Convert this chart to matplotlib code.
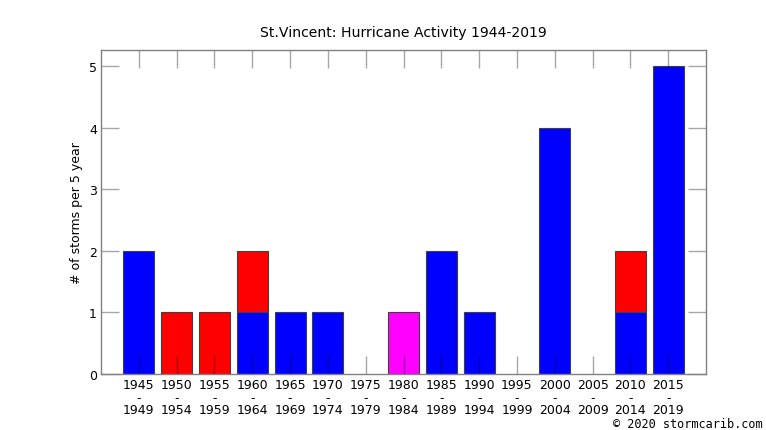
import numpy as np
import matplotlib
matplotlib.use("Agg")
import matplotlib.pyplot as plt

# storms per 5-year period, by category
periods = ["1945\n-\n1949", "1950\n-\n1954", "1955\n-\n1959", "1960\n-\n1964",
           "1965\n-\n1969", "1970\n-\n1974", "1975\n-\n1979", "1980\n-\n1984",
           "1985\n-\n1989", "1990\n-\n1994", "1995\n-\n1999", "2000\n-\n2004",
           "2005\n-\n2009", "2010\n-\n2014", "2015\n-\n2019"]
blue_counts = [2, 0, 0, 1, 1, 1, 0, 0, 2, 1, 0, 4, 0, 1, 5]
red_counts = [0, 1, 1, 1, 0, 0, 0, 0, 0, 0, 0, 0, 0, 1, 0]
magenta_counts = [0, 0, 0, 0, 0, 0, 0, 1, 0, 0, 0, 0, 0, 0, 0]

fig = plt.figure(figsize=(7.66, 4.31), dpi=100)
ax = fig.add_axes([0.1319, 0.1299, 0.7898, 0.7518])

x = np.arange(1, len(periods) + 1)
blue = np.array(blue_counts)
red = np.array(red_counts)
mag = np.array(magenta_counts)

w = 0.82
edge = dict(edgecolor="#404040", linewidth=0.8)
# only draw the non-empty segments
m = blue > 0
ax.bar(x[m], blue[m], width=w, color="#0000ff", **edge)
m = red > 0
ax.bar(x[m], red[m], width=w, bottom=blue[m], color="#ff0000", **edge)
m = mag > 0
ax.bar(x[m], mag[m], width=w, bottom=(blue + red)[m], color="#ff00ff", **edge)

ax.set_xlim(0, len(periods) + 1)
ax.set_ylim(0, 5.26)
ax.set_xticks(x)
ax.set_xticklabels(periods, fontsize=9, linespacing=0.95)
ax.set_yticks(range(6))
ax.set_yticklabels([str(i) for i in range(6)], fontsize=9)

tick_col = (0, 0, 0, 0.35)
ax.tick_params(axis="both", direction="in", length=13, width=1.0, color=tick_col,
               top=True, right=True, pad=3)
for s in ax.spines.values():
    s.set_color("#808080")
    s.set_linewidth(1.0)

ax.set_ylabel("# of storms per 5 year", fontsize=9, labelpad=4)
ax.set_title("St.Vincent: Hurricane Activity 1944-2019", fontsize=10.1, pad=10)

fig.text(0.995, 0.016, "\u00a9 2020 stormcarib.com", ha="right", va="center",
         family="DejaVu Sans Mono", fontsize=8.6)

fig.savefig("out.png", dpi=100)
